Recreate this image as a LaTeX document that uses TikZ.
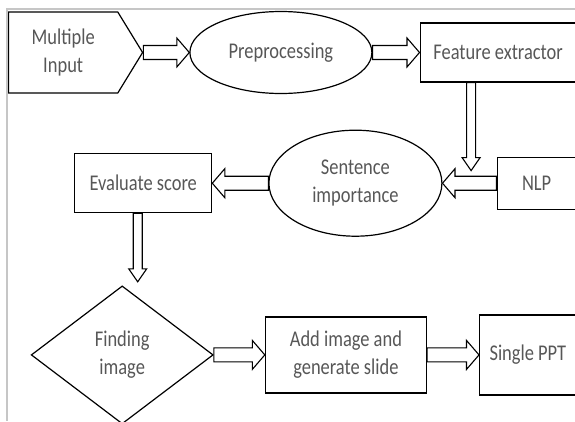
\documentclass[tikz,border=0pt]{standalone}
\usepackage{fontspec}
\setmainfont{Carlito}[FakeStretch=0.82]
\usetikzlibrary{positioning, shapes.geometric, shapes.symbols, calc}
\usepackage{xcolor}
\definecolor{inkgray}{HTML}{575757}
\definecolor{rulegray}{HTML}{C6C6C6}

\begin{document}
\begin{tikzpicture}[
    font=\fontsize{22.5}{28}\selectfont,
    base/.style={draw=black, line width=1.2pt, text=inkgray, align=center, inner sep=2pt},
    pbox/.style={base, rectangle, minimum height=59pt},
    oval/.style={base, ellipse},
    blockarr/.style n args={3}{draw=black, line width=1.1pt, fill=white, line join=miter,
      to path={let \p1=($(\tikztotarget)-(\tikztostart)$), \n2={atan2(\y1,\x1)} in
        ($(\tikztostart)+(\n2+90:#1)$)
        -- ($(\tikztostart)+(\n2:{veclen(\x1,\y1)-#3})+(\n2+90:#1)$)
        -- ($(\tikztostart)+(\n2:{veclen(\x1,\y1)-#3})+(\n2+90:#2)$)
        -- (\tikztotarget)
        -- ($(\tikztostart)+(\n2:{veclen(\x1,\y1)-#3})+(\n2-90:#2)$)
        -- ($(\tikztostart)+(\n2:{veclen(\x1,\y1)-#3})+(\n2-90:#1)$)
        -- ($(\tikztostart)+(\n2-90:#1)$) -- cycle}},
    harr/.style={blockarr={7pt}{14.5pt}{12.5pt}},
    varr/.style={blockarr={4.5pt}{9pt}{13pt}},
    frame/.style={draw=rulegray, line width=1.2pt},
  ]
    \useasboundingbox (0,0) rectangle (575pt,-421pt);
    \draw[frame] (575pt,-9pt) -- (7pt,-9pt) -- (7pt,-421pt);

    \node[base, signal, signal to=east, signal pointer angle=117,
          minimum width=134pt, minimum height=81pt, anchor=west] (input) at (8pt,-52.5pt) {Multiple\\Input};
    \node[oval, minimum width=182pt, minimum height=82pt, right=46pt of input] (pre) {Preprocessing};
    \node[pbox, minimum width=156pt, right=47pt of pre] (feat) {Feature extractor};

    \node[pbox, minimum width=79pt, minimum height=52pt, below=74pt of feat.south east, anchor=north east] (nlp) {NLP};
    \node[oval, minimum width=173pt, minimum height=106pt, left=54pt of nlp] (sent) {Sentence\\importance};
    \node[pbox, minimum width=137pt, left=56pt of sent] (eval) {Evaluate score};

    \node[base, diamond, minimum width=182pt, minimum height=138pt, below=72pt of eval, xshift=-21pt] (find) {Finding\\image};
    \node[pbox, minimum width=161pt, minimum height=76pt, right=51pt of find] (add) {Add image and\\generate slide};
    \node[pbox, minimum width=96.5pt, minimum height=80pt, right=52pt of add] (ppt) {Single PPT};

    \coordinate[below=88pt of feat.south, xshift=-27pt] (fdrop);
    \coordinate[below=68.5pt of eval.south, xshift=-5.5pt] (edrop);

    \draw[harr] (input.east) to (pre.west);
    \draw[harr] (pre.east) to (feat.west);
    \draw[varr] ([xshift=-27pt]feat.south) to (fdrop);
    \draw[harr] (nlp.west) to (sent.east);
    \draw[harr] (sent.west) to (eval.east);
    \draw[varr] ([xshift=-5.5pt]eval.south) to (edrop);
    \draw[harr] (find.east) to (find.east -| add.west);
    \draw[harr] (add.east) to (ppt.west);
\end{tikzpicture}
\end{document}
